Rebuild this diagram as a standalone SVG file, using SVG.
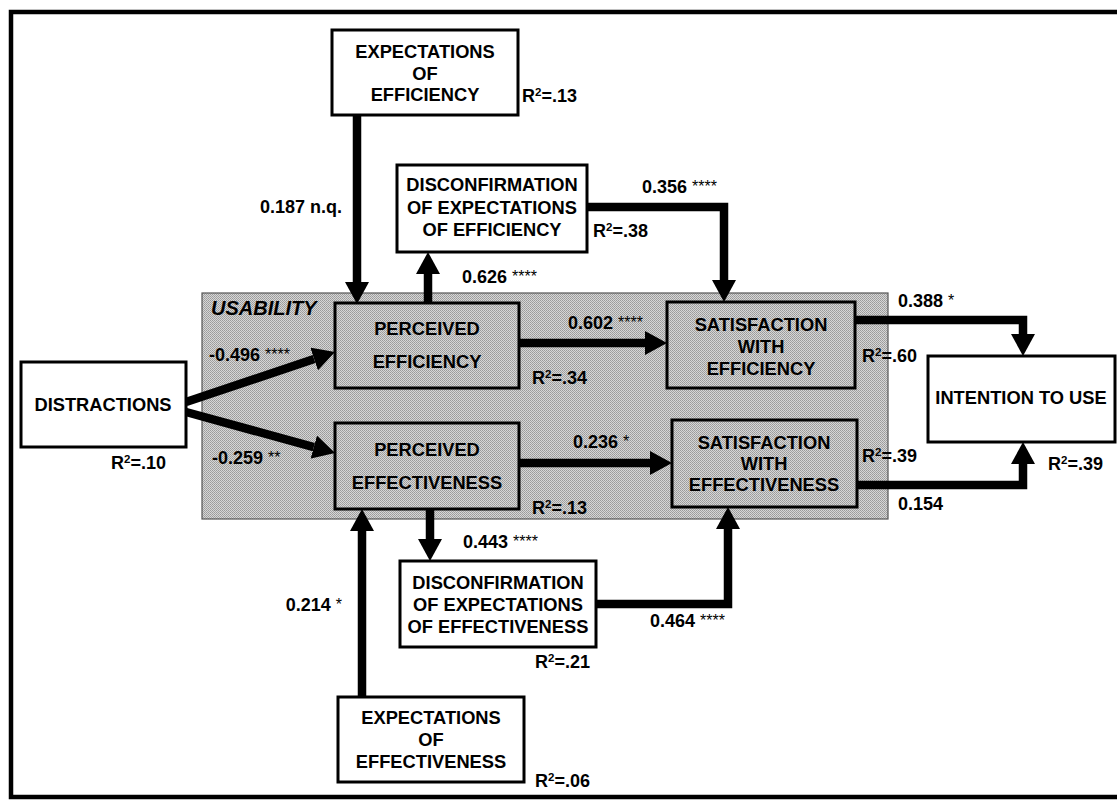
<svg xmlns="http://www.w3.org/2000/svg" width="1117" height="802" viewBox="0 0 1117 802">
  <defs>
    <!-- dithered gray used for the usability block -->
    <pattern id="dither" width="2" height="2" patternUnits="userSpaceOnUse">
      <rect width="2" height="2" fill="#d6d6d6"/>
      <rect x="0" y="0" width="1" height="1" fill="#9a9a9a"/>
      <rect x="1" y="1" width="1" height="1" fill="#a4a4a4"/>
    </pattern>
    <marker id="head" markerUnits="userSpaceOnUse" markerWidth="23" markerHeight="24" refX="0" refY="12" orient="auto">
      <path d="M0,0 L22,12 L0,24 Z" fill="#000"/>
    </marker>
  </defs>
  <style>
    text { font-family: "Liberation Sans", Arial, sans-serif; font-weight: bold; fill: #000; }
    .node { font-size: 18.3px; text-anchor: middle; }
    .lbl { font-size: 18px; }
    .sig { font-size: 16px; font-weight: normal; }
    .sup { font-size: 11.5px; }
    .box { fill: #fff; stroke: #000; stroke-width: 3; }
    .gbox { fill: url(#dither); stroke: #000; stroke-width: 3; }
    .conn { fill: none; stroke: #000; stroke-width: 8.5; stroke-linejoin: miter; marker-end: url(#head); }
  </style>

  <rect width="1117" height="802" fill="#fff"/>
  <!-- outer frame -->
  <rect x="11" y="12" width="1130" height="785" fill="none" stroke="#000" stroke-width="4.5"/>

  <!-- usability block -->
  <g id="usability">
    <rect x="202" y="293" width="686" height="226" fill="url(#dither)" stroke="#555" stroke-width="1.2"/>
    <text x="211" y="315" style="font-size:20px;font-style:italic">USABILITY</text>
  </g>

  <!-- connectors -->
  <g id="connectors">
    <path class="conn" d="M357,115 V282"/>
    <path class="conn" d="M428,303 V274"/>
    <path class="conn" d="M587,207 H724 V280"/>
    <path class="conn" d="M186,402 L314.1,359"/>
    <path class="conn" d="M186,412 L313.8,447.1"/>
    <path class="conn" d="M519,343 H645"/>
    <path class="conn" d="M519,463 H650"/>
    <path class="conn" d="M855,320 H1023 V334"/>
    <path class="conn" d="M857,485 H1023 V464"/>
    <path class="conn" d="M362,697 V531"/>
    <path class="conn" d="M430,509 V539"/>
    <path class="conn" d="M596,604 H728 V529"/>
  </g>

  <g id="exp-efficiency">
    <rect class="box" x="332" y="30" width="186" height="85"/>
    <text class="node" x="425" y="58">EXPECTATIONS</text>
    <text class="node" x="425" y="80">OF</text>
    <text class="node" x="425" y="101">EFFICIENCY</text>
  </g>

  <g id="disconf-efficiency">
    <rect class="box" x="397" y="165" width="190" height="87"/>
    <text class="node" x="492" y="191">DISCONFIRMATION</text>
    <text class="node" x="492" y="214">OF EXPECTATIONS</text>
    <text class="node" x="492" y="236">OF EFFICIENCY</text>
  </g>

  <g id="perceived-efficiency">
    <rect class="gbox" x="335" y="303" width="184" height="85"/>
    <text class="node" x="427" y="335">PERCEIVED</text>
    <text class="node" x="427" y="368">EFFICIENCY</text>
  </g>

  <g id="perceived-effectiveness">
    <rect class="gbox" x="335" y="423" width="184" height="86"/>
    <text class="node" x="427" y="456">PERCEIVED</text>
    <text class="node" x="427" y="489">EFFECTIVENESS</text>
  </g>

  <g id="satisfaction-efficiency">
    <rect class="gbox" x="667" y="302" width="188" height="86"/>
    <text class="node" x="761" y="331">SATISFACTION</text>
    <text class="node" x="761" y="353">WITH</text>
    <text class="node" x="761" y="375">EFFICIENCY</text>
  </g>

  <g id="satisfaction-effectiveness">
    <rect class="gbox" x="672" y="420" width="185" height="87"/>
    <text class="node" x="764" y="449">SATISFACTION</text>
    <text class="node" x="764" y="470">WITH</text>
    <text class="node" x="764" y="491">EFFECTIVENESS</text>
  </g>

  <g id="distractions">
    <rect class="box" x="21" y="362" width="165" height="85"/>
    <text class="node" x="103" y="411">DISTRACTIONS</text>
  </g>

  <g id="intention">
    <rect class="box" x="928" y="356" width="187" height="86"/>
    <text class="node" x="1021" y="404">INTENTION TO USE</text>
  </g>

  <g id="disconf-effectiveness">
    <rect class="box" x="400" y="561" width="196" height="86"/>
    <text class="node" x="498" y="589">DISCONFIRMATION</text>
    <text class="node" x="498" y="611">OF EXPECTATIONS</text>
    <text class="node" x="498" y="633">OF EFFECTIVENESS</text>
  </g>

  <g id="exp-effectiveness">
    <rect class="box" x="338" y="697" width="186" height="85"/>
    <text class="node" x="431" y="724">EXPECTATIONS</text>
    <text class="node" x="431" y="746">OF</text>
    <text class="node" x="431" y="768">EFFECTIVENESS</text>
  </g>

  <!-- path coefficients and explained variance -->
  <g id="labels">
    <text class="lbl" x="342" y="213" text-anchor="end">0.187 n.q.</text>
    <text class="lbl" x="522" y="102">R<tspan class="sup" dy="-6">2</tspan><tspan dy="6">=.13</tspan></text>
    <text class="lbl" x="642" y="193">0.356 <tspan class="sig" dy="-1">****</tspan></text>
    <text class="lbl" x="593" y="237">R<tspan class="sup" dy="-6">2</tspan><tspan dy="6">=.38</tspan></text>
    <text class="lbl" x="462" y="283">0.626 <tspan class="sig" dy="-1">****</tspan></text>
    <text class="lbl" x="209" y="361">-0.496 <tspan class="sig" dy="-1">****</tspan></text>
    <text class="lbl" x="212" y="464">-0.259 <tspan class="sig" dy="-1">**</tspan></text>
    <text class="lbl" x="111" y="469">R<tspan class="sup" dy="-6">2</tspan><tspan dy="6">=.10</tspan></text>
    <text class="lbl" x="568" y="329">0.602 <tspan class="sig" dy="-1">****</tspan></text>
    <text class="lbl" x="532" y="384">R<tspan class="sup" dy="-6">2</tspan><tspan dy="6">=.34</tspan></text>
    <text class="lbl" x="573" y="448">0.236 <tspan class="sig" dy="-1">*</tspan></text>
    <text class="lbl" x="532" y="514">R<tspan class="sup" dy="-6">2</tspan><tspan dy="6">=.13</tspan></text>
    <text class="lbl" x="898" y="307">0.388 <tspan class="sig" dy="-1">*</tspan></text>
    <text class="lbl" x="862" y="362">R<tspan class="sup" dy="-6">2</tspan><tspan dy="6">=.60</tspan></text>
    <text class="lbl" x="862" y="462">R<tspan class="sup" dy="-6">2</tspan><tspan dy="6">=.39</tspan></text>
    <text class="lbl" x="898" y="510">0.154</text>
    <text class="lbl" x="1048" y="470">R<tspan class="sup" dy="-6">2</tspan><tspan dy="6">=.39</tspan></text>
    <text class="lbl" x="463" y="548">0.443 <tspan class="sig" dy="-1">****</tspan></text>
    <text class="lbl" x="342" y="611" text-anchor="end">0.214 <tspan class="sig" dy="-1">*</tspan></text>
    <text class="lbl" x="650" y="627">0.464 <tspan class="sig" dy="-1">****</tspan></text>
    <text class="lbl" x="535" y="668">R<tspan class="sup" dy="-6">2</tspan><tspan dy="6">=.21</tspan></text>
    <text class="lbl" x="535" y="787">R<tspan class="sup" dy="-6">2</tspan><tspan dy="6">=.06</tspan></text>
  </g>
</svg>
